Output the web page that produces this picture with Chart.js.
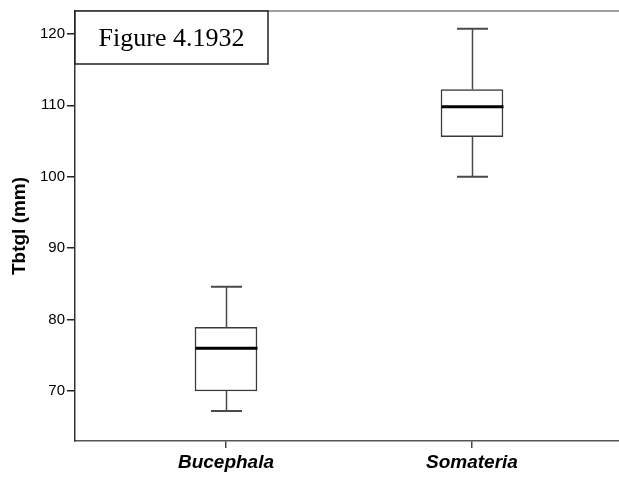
<!DOCTYPE html>
<html>
<head>
<meta charset="utf-8">
<script src="https://cdn.jsdelivr.net/npm/chart.js@4"></script>
<style>
  html, body { margin: 0; padding: 0; background: #fff; }
  #wrap { width: 619px; height: 477px; }
</style>
</head>
<body>
<div id="wrap"><canvas id="c" width="619" height="477"></canvas></div>
<script>
const categories = ['Bucephala', 'Somateria'];
const categoryPos = [1, 2];
const whiskerLow = [67.2, 100.0];
const q1 = [70.0, 105.6];
const median = [76.0, 109.8];
const q3 = [78.9, 112.2];
const whiskerHigh = [84.6, 120.7];
const yTicks = [70, 80, 90, 100, 110, 120];
const yTitle = 'Tbtgl (mm)';
const figureLabel = 'Figure 4.1932';

const boxData = categoryPos.map((x, i) => ({ x: x, y: [q1[i], q3[i]] }));

const boxPlotPlugin = {
  id: 'boxPlotExtras',
  afterDatasetsDraw(chart) {
    const ctx = chart.ctx;
    const xs = chart.scales.x, ys = chart.scales.y;
    const area = chart.chartArea;
    ctx.save();
    ctx.lineCap = 'butt';
    categoryPos.forEach((pos, i) => {
      const cx = Math.round(xs.getPixelForValue(pos)) + 0.5;
      const half = 31;
      const capHalf = 15.5;
      ctx.strokeStyle = '#4a4a4a';
      ctx.lineWidth = 1.5;
      ctx.beginPath();
      ctx.moveTo(cx, ys.getPixelForValue(q3[i]));
      ctx.lineTo(cx, ys.getPixelForValue(whiskerHigh[i]));
      ctx.moveTo(cx, ys.getPixelForValue(q1[i]));
      ctx.lineTo(cx, ys.getPixelForValue(whiskerLow[i]));
      ctx.stroke();
      ctx.lineWidth = 2;
      ctx.beginPath();
      ctx.moveTo(cx - capHalf, ys.getPixelForValue(whiskerHigh[i]));
      ctx.lineTo(cx + capHalf, ys.getPixelForValue(whiskerHigh[i]));
      ctx.moveTo(cx - capHalf, ys.getPixelForValue(whiskerLow[i]));
      ctx.lineTo(cx + capHalf, ys.getPixelForValue(whiskerLow[i]));
      ctx.stroke();
      ctx.strokeStyle = '#000';
      ctx.lineWidth = 3;
      ctx.beginPath();
      const my = ys.getPixelForValue(median[i]);
      ctx.moveTo(cx - half, my);
      ctx.lineTo(cx + half, my);
      ctx.stroke();
    });
    ctx.strokeStyle = '#808080';
    ctx.lineWidth = 1.5;
    ctx.beginPath();
    ctx.moveTo(area.left, area.top);
    ctx.lineTo(area.right, area.top);
    ctx.stroke();
    const bx = area.left, by = area.top, bw = 193, bh = 53;
    ctx.fillStyle = '#fff';
    ctx.fillRect(bx, by, bw, bh);
    ctx.strokeStyle = '#222';
    ctx.lineWidth = 1.5;
    ctx.strokeRect(bx, by, bw, bh);
    ctx.fillStyle = '#000';
    ctx.font = '26px "Liberation Serif", "Times New Roman", serif';
    ctx.textAlign = 'center';
    ctx.textBaseline = 'alphabetic';
    ctx.fillText(figureLabel, bx + bw / 2, by + 35);
    ctx.restore();
  }
};

new Chart(document.getElementById('c'), {
  type: 'bar',
  data: {
    datasets: [{
      data: boxData,
      backgroundColor: '#ffffff',
      borderColor: '#3a3a3a',
      borderWidth: 1.5,
      borderSkipped: false,
      barThickness: 62
    }]
  },
  options: {
    responsive: false,
    animation: false,
    events: [],
    layout: { padding: { top: 9, right: 0, left: 0, bottom: 0 } },
    plugins: {
      legend: { display: false },
      tooltip: { enabled: false }
    },
    scales: {
      x: {
        type: 'linear',
        offset: false,
        min: 0.3862,
        max: 2.5976,
        afterBuildTicks(scale) { scale.ticks = categoryPos.map(v => ({ value: v })); },
        afterFit(scale) { scale.height = 36; },
        ticks: {
          callback(value) { const i = categoryPos.indexOf(value); return i >= 0 ? categories[i] : ''; },
          color: '#000',
          font: { family: 'Liberation Sans, Arial, sans-serif', size: 19, weight: 'bold', style: 'italic' },
          padding: 3,
          maxRotation: 0,
          autoSkip: false
        },
        grid: { offset: false, drawOnChartArea: false, drawTicks: true, tickLength: 7, color: '#444', lineWidth: 1.5 },
        border: { display: true, color: '#555', width: 1.5 }
      },
      y: {
        min: 63,
        max: 123.2,
        afterBuildTicks(scale) { scale.ticks = yTicks.map(v => ({ value: v })); },
        afterFit(scale) { scale.width = 75; },
        ticks: {
          color: '#000',
          font: { family: 'Liberation Sans, Arial, sans-serif', size: 15 },
          padding: 2
        },
        grid: { drawOnChartArea: false, drawTicks: true, tickLength: 8, color: '#222', lineWidth: 1.5 },
        border: { display: true, color: '#333', width: 1.5 },
        title: {
          display: true,
          text: yTitle,
          color: '#000',
          font: { family: 'Liberation Sans, Arial, sans-serif', size: 19, weight: 'bold', lineHeight: 1.2 },
          padding: { top: 8, bottom: 0 }
        }
      }
    }
  },
  plugins: [boxPlotPlugin]
});
</script>
</body>
</html>
